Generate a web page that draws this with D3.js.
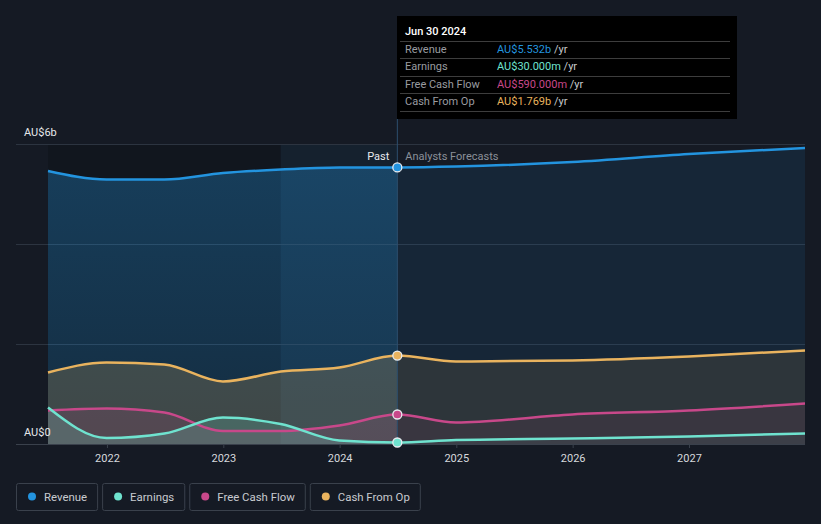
<!DOCTYPE html>
<html><head><meta charset="utf-8">
<script src="https://cdn.jsdelivr.net/npm/d3@7"></script>
<style>
html,body{margin:0;padding:0;background:#151a24;}
svg{display:block;font-family:Roboto,"Noto Sans",sans-serif;}
</style></head>
<body><svg id="c" width="821" height="524"></svg>
<script>
// ---- data ----
const dates = ["2021-06-30","2021-12-31","2022-06-30","2022-12-31","2023-06-30","2023-12-31","2024-06-30","2024-12-31","2025-12-31","2026-12-31","2027-12-31"];
const revenue   = [5.46, 5.29, 5.29, 5.42, 5.49, 5.53, 5.532, 5.55, 5.64, 5.80, 5.92];
const earnings  = [0.73, 0.12, 0.21, 0.53, 0.40, 0.07, 0.03, 0.08, 0.11, 0.15, 0.21];
const fcf       = [0.67, 0.71, 0.63, 0.26, 0.26, 0.37, 0.59, 0.43, 0.59, 0.67, 0.81];
const cfo       = [1.43, 1.63, 1.59, 1.25, 1.45, 1.53, 1.769, 1.65, 1.67, 1.75, 1.87];
const yTicks = [0, 6];
const yTickLabels = ["AU$0", "AU$6b"];
const gridValues = [0, 2, 4, 6];
const xTickYears = [2022, 2023, 2024, 2025, 2026, 2027];
const seriesNames = ["Revenue", "Earnings", "Free Cash Flow", "Cash From Op"];
const seriesColors = ["#2394df", "#6fe3cf", "#c8488a", "#e9b35e"];
const tooltipDate = "Jun 30 2024";
const tooltipValues = ["AU$5.532b", "AU$30.000m", "AU$590.000m", "AU$1.769b"];
const pastLabel = "Past", forecastLabel = "Analysts Forecasts";

const parse = d3.timeParse("%Y-%m-%d");
const D = dates.map(parse);
const allSeries = [revenue, earnings, fcf, cfo];
const nowDate = parse("2024-06-30");
const bandStart = parse("2023-06-30");

const svg = d3.select("#c");
const x = d3.scaleTime().domain([D[0], D[D.length-1]]).range([48, 805]);
const y = d3.scaleLinear().domain([0, 6]).range([444, 144]);
const left = 16, right = 805;
const xNow = x(nowDate);

const defs = svg.append("defs");
defs.append("clipPath").attr("id","past").append("rect")
  .attr("x", 0).attr("y", 0).attr("width", xNow).attr("height", 524);
defs.append("clipPath").attr("id","fore").append("rect")
  .attr("x", xNow).attr("y", 0).attr("width", 821 - xNow).attr("height", 524);
const g1 = defs.append("linearGradient").attr("id","pastRev").attr("x1",0).attr("x2",0).attr("y1",0).attr("y2",1);
g1.append("stop").attr("offset","0%").attr("stop-color","#2394df").attr("stop-opacity",0.32);
g1.append("stop").attr("offset","100%").attr("stop-color","#2394df").attr("stop-opacity",0.18);

// past darker backdrop
svg.append("rect").attr("x", x(D[0])).attr("y", y(6)).attr("width", x(bandStart) - x(D[0]))
  .attr("height", y(0) - y(6)).attr("fill", "#000").attr("opacity", 0.15);
// highlight band
svg.append("rect").attr("x", x(bandStart)).attr("y", y(6)).attr("width", xNow - x(bandStart))
  .attr("height", y(0) - y(6)).attr("fill", "#2394df").attr("opacity", 0.06);

// grid
svg.append("g").selectAll("line").data(gridValues).join("line")
  .attr("x1", left).attr("x2", right).attr("y1", d => y(d)+0.5).attr("y2", d => y(d)+0.5)
  .attr("stroke", d => d === 0 ? "#3a414c" : "#2c3440").attr("stroke-width", 1);

const pts = s => s.map((v,i) => [D[i], v]);
const area = d3.area().x(d => x(d[0])).y0(y(0)).y1(d => y(d[1])).curve(d3.curveMonotoneX);
const line = d3.line().x(d => x(d[0])).y(d => y(d[1])).curve(d3.curveMonotoneX);

// areas
const pastOp = [null, 0.2, 0.15, 0.2];
const foreOp = [0.1, 0.06, 0.08, 0.11];
const order = [0, 3, 2, 1];
order.forEach(i => {
  svg.append("path").datum(pts(allSeries[i])).attr("d", area)
    .attr("clip-path","url(#past)")
    .attr("fill", i === 0 ? "url(#pastRev)" : seriesColors[i])
    .attr("fill-opacity", i === 0 ? 1 : pastOp[i]);
  svg.append("path").datum(pts(allSeries[i])).attr("d", area)
    .attr("clip-path","url(#fore)")
    .attr("fill", seriesColors[i]).attr("fill-opacity", foreOp[i]);
});

// vertical now line
svg.append("line").attr("x1", xNow).attr("x2", xNow).attr("y1", 119).attr("y2", y(0))
  .attr("stroke", "#2d4f6e").attr("stroke-width", 1);

// lines
order.forEach(i => {
  svg.append("path").datum(pts(allSeries[i])).attr("d", line)
    .attr("fill","none").attr("stroke", seriesColors[i]).attr("stroke-width", 2.5);
});

// now dots
const nowIdx = 6;
allSeries.forEach((s,i) => {
  svg.append("circle").attr("cx", x(D[nowIdx])).attr("cy", y(s[nowIdx])).attr("r", 4.5)
    .attr("fill", seriesColors[i]).attr("stroke", "#e8ecf0").attr("stroke-width", 1.3);
});

// y labels
svg.append("g").selectAll("text").data(yTicks).join("text")
  .attr("x", 24).attr("y", d => y(d) - 8).text((d,i) => yTickLabels[i])
  .attr("fill", "#e6e8eb").attr("font-size", 11);

// x axis
const xa = svg.append("g").attr("transform", `translate(0,${y(0)})`)
  .call(d3.axisBottom(x).tickValues(xTickYears.map(yr => new Date(yr,0,1)))
    .tickFormat(d3.timeFormat("%Y")).tickSize(4).tickPadding(6));
xa.select(".domain").remove();
xa.selectAll("line").attr("stroke", "#3a414c");
xa.selectAll("text").attr("fill", "#d6d9dd").attr("font-size", 11).attr("font-family","Roboto,sans-serif");

// past / forecast labels
svg.append("text").attr("x", xNow - 8).attr("y", 160).attr("text-anchor","end")
  .attr("fill","#e8eaed").attr("font-size", 11).text(pastLabel);
svg.append("text").attr("x", xNow + 8).attr("y", 160)
  .attr("fill","#8b9099").attr("font-size", 11).text(forecastLabel);

// tooltip
const tt = svg.append("g").attr("transform","translate(397,16)");
tt.append("rect").attr("width", 340).attr("height", 103).attr("fill", "#000");
tt.append("text").attr("x", 8).attr("y", 19).attr("fill","#fff").attr("font-size", 11)
  .attr("font-weight", 500).text(tooltipDate);
const rowY = [37, 54, 72, 89];
[25.5, 42.5, 60.5, 77.5, 95.5].forEach(ly => tt.append("line").attr("x1", 3).attr("x2", 333)
  .attr("y1", ly).attr("y2", ly).attr("stroke", "#3d3d3d"));
seriesNames.forEach((n,i) => {
  tt.append("text").attr("x", 8).attr("y", rowY[i]).attr("fill", "#9a9ca0").attr("font-size", 11).text(n);
  const t = tt.append("text").attr("x", 100).attr("y", rowY[i]).attr("font-size", 11);
  t.append("tspan").attr("fill", seriesColors[i]).text(tooltipValues[i]);
  t.append("tspan").attr("fill", "#c8cacd").text(" /yr");
});

// legend
const lg = svg.append("g");
let lx = 16;
seriesNames.forEach((n,i) => {
  const gi = lg.append("g").attr("transform", `translate(${lx},483)`);
  const txt = gi.append("text").attr("x", 28).attr("y", 17.5).attr("fill","#c8cbd0").attr("font-size", 11.4).text(n);
  const w = txt.node().getComputedTextLength() + 38;
  gi.insert("rect","text").attr("x",0.5).attr("y",0.5).attr("width", w).attr("height", 27).attr("rx", 2)
    .attr("fill","none").attr("stroke","#3a414c");
  gi.append("circle").attr("cx", 16).attr("cy", 13.5).attr("r", 4).attr("fill", seriesColors[i]);
  lx += w + 5;
});
</script></body></html>
